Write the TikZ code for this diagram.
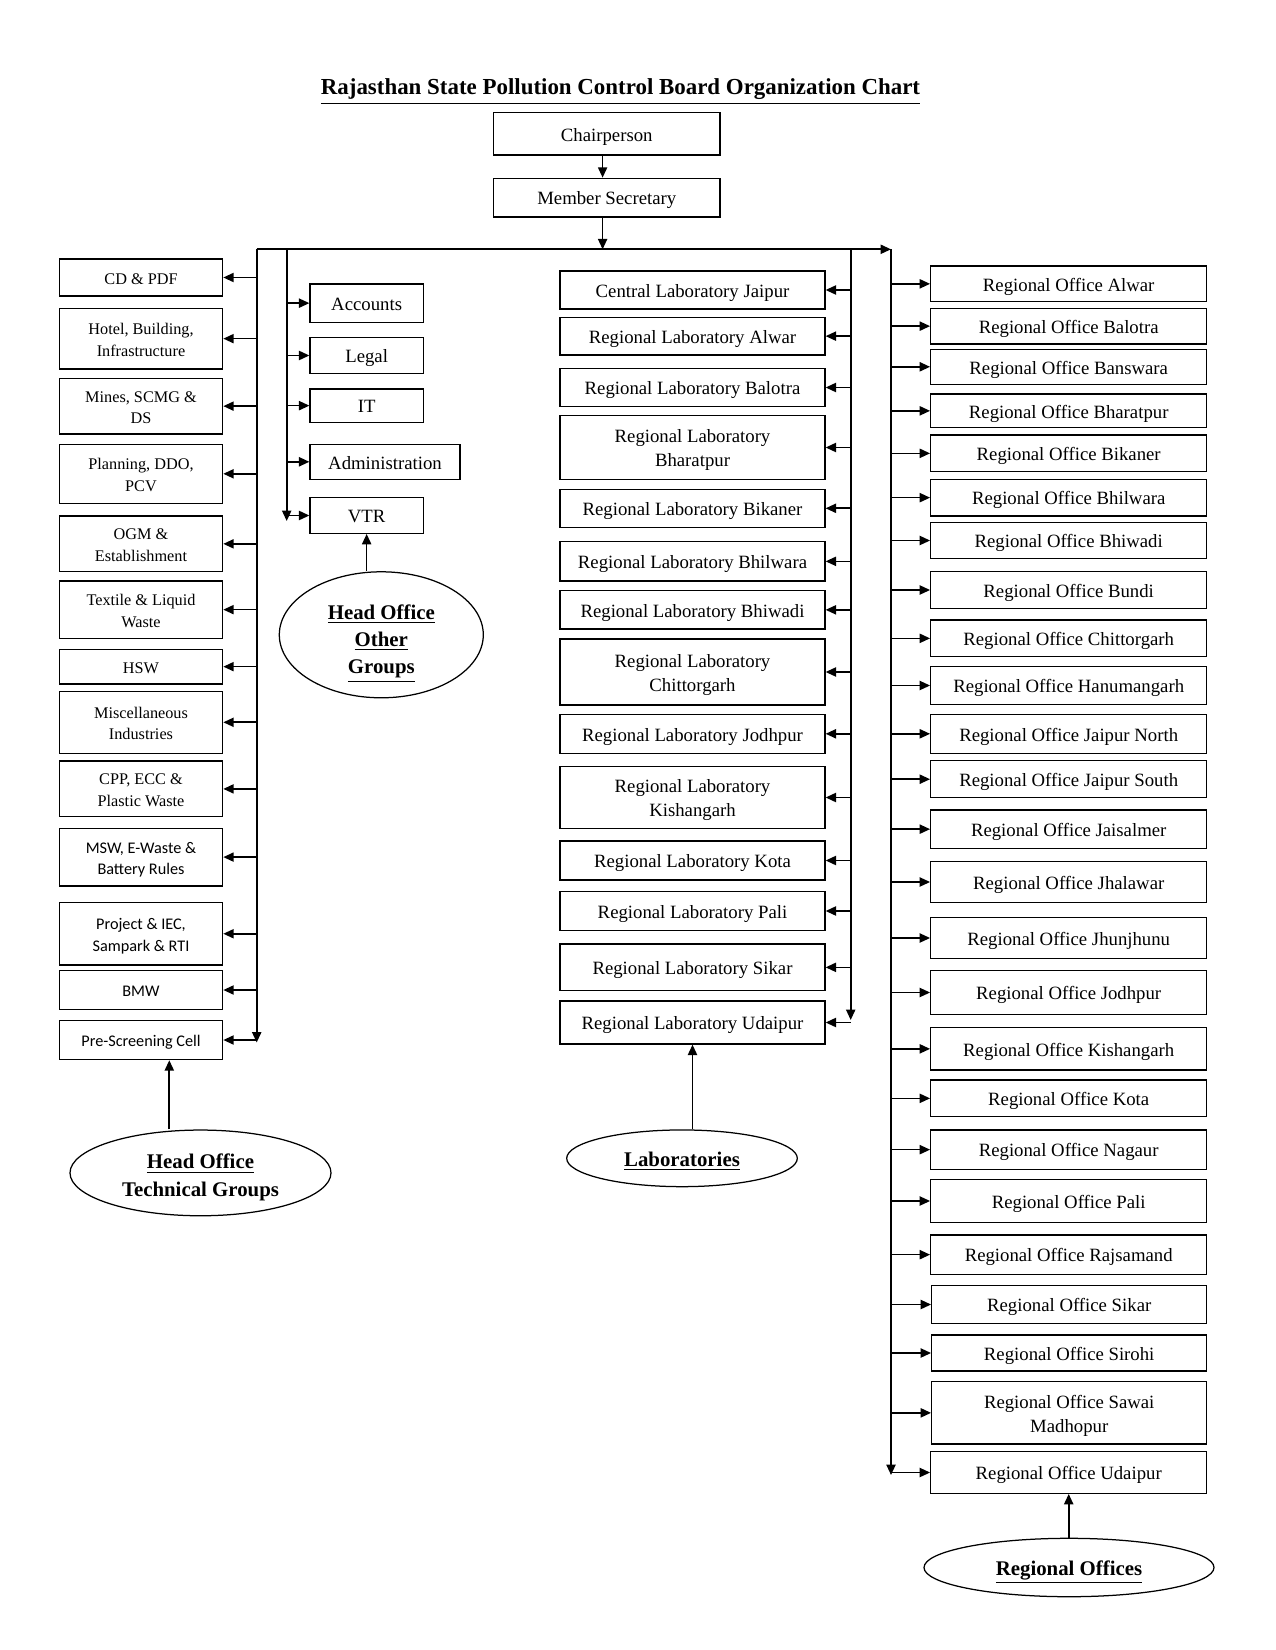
\documentclass[tikz,border=0pt]{standalone}
\usepackage{fontspec}
\setmainfont{Liberation Serif}
\newfontfamily\calib{Carlito}
\usetikzlibrary{arrows.meta,shapes.geometric}
\tikzset{
  box/.style={draw,line width=0.6pt,inner sep=0pt,font=\fontsize{9}{11.5}\selectfont},
  lbox/.style={box,font=\fontsize{7.8}{10.4}\selectfont},
  cbox/.style={box,font=\calib\fontsize{7.8}{10.4}\selectfont},
  oval/.style={draw,ellipse,line width=0.6pt,inner sep=0pt,font=\bfseries\fontsize{10}{13}\selectfont},
  arr/.style={line width=0.8pt,-{Triangle[length=5pt,width=4.4pt]}},
  conn/.style={line width=0.8pt}
}
\newcommand\tx[2][1.2pt]{\raisebox{-#1}[\height][\depth]{\begin{tabular}{@{}c@{}}#2\end{tabular}}}
\newcommand\bx[7][]{\node[box,#1,minimum width={(#5-#3)*0.48pt},minimum height={(#6-#4)*0.48pt}] (#2) at ({(#3+#5)/2},{(#4+#6)/2}) {\tx{#7}};}
\begin{document}
\begin{tikzpicture}[x=0.48pt,y=-0.48pt]
\useasboundingbox (0,0) rectangle (1275,1650);
% title
\node[anchor=base,inner sep=0pt,font=\bfseries\fontsize{11}{13}\selectfont] (title) at (620.5,95) {\underline{Rajasthan State Pollution Control Board Organization Chart}};
% top
\bx{chair}{493.5}{112.7}{720}{155}{Chairperson}
\bx{ms}{493.5}{178.3}{720}{217}{Member Secretary}
\coordinate (cx) at (602.6,0);
\coordinate (busL) at (256.7,249.3);
\coordinate (busM) at (602.6,249.3);
\coordinate (busR) at (891,249.3);
\coordinate (vI) at (286.7,249.3);
\coordinate (vLab) at (850.7,249.3);
\coordinate (Lend) at (256.7,1042.5);
\coordinate (Iend) at (286.7,521);
\coordinate (Bend) at (850.7,1020);
\coordinate (Rend) at (891,1475);
\draw[arr] (chair.south -| cx) -- (ms.north -| cx);
\draw[arr] (ms.south -| cx) -- (busM);
\draw[arr] (busL) -- (busR);
\draw[arr] (busL) -- (Lend);
\draw[arr] (vI) -- (Iend);
\draw[arr] (vLab) -- (Bend);
\draw[arr] (busR) -- (Rend);
% left technical groups
\bx[lbox]{cd}{59.3}{259}{222.7}{296}{CD \& PDF}
\bx[lbox]{hotel}{59.3}{308.3}{222.7}{369}{Hotel, Building,\\Infrastructure}
\bx[lbox]{mines}{59.3}{378.3}{222.7}{434}{Mines, SCMG \&\\DS}
\bx[lbox]{plan}{59.3}{444.3}{222.7}{503.3}{Planning, DDO,\\PCV}
\bx[lbox]{ogm}{59.3}{516}{222.7}{571.7}{OGM \&\\Establishment}
\bx[lbox]{textile}{59.3}{581}{222.7}{638.3}{Textile \& Liquid\\Waste}
\bx[lbox]{hsw}{59.3}{649.3}{222.7}{684}{HSW}
\bx[lbox]{misc}{59.3}{691.4}{222.7}{753.2}{Miscellaneous\\Industries}
\bx[lbox]{cpp}{59.3}{761}{222.7}{816.8}{CPP, ECC \&\\Plastic Waste}
\bx[cbox]{msw}{59.3}{828.2}{222.7}{886}{MSW, E-Waste \&\\Battery Rules}
\bx[cbox]{proj}{59.3}{902.5}{222.7}{965}{Project \& IEC,\\Sampark \& RTI}
\bx[cbox]{bmw}{59.3}{970.4}{222.7}{1009.6}{BMW}
\bx[cbox]{pre}{59.3}{1020.4}{222.7}{1059.6}{Pre-Screening Cell\hspace{8pt}}
\foreach \n in {cd,hotel,mines,plan,ogm,textile,hsw,misc,cpp,msw,proj,bmw,pre}
  \draw[arr] (busL |- \n.east) -- (\n.east);
% other groups
\bx{acc}{310}{284}{423.3}{322.3}{Accounts}
\bx{legal}{310}{337.7}{423.3}{373.3}{Legal}
\bx{it}{310}{389}{423.3}{422.3}{IT}
\bx{admin}{310}{444.3}{460}{479.3}{Administration}
\bx{vtr}{310}{497.7}{423.3}{533.3}{VTR}
\foreach \n in {acc,legal,it,admin,vtr}
  \draw[arr] (vI |- \n.west) -- (\n.west);
% laboratories
\bx{lcen}{560}{271}{825}{309}{Central Laboratory Jaipur}
\bx{lalw}{560}{317.3}{825}{355}{Regional Laboratory Alwar}
\bx{lbal}{560}{368.7}{825}{406.3}{Regional Laboratory Balotra}
\bx{lbha}{560}{415.7}{825}{479.3}{Regional Laboratory\\Bharatpur}
\bx{lbik}{560}{489.3}{825}{527.3}{Regional Laboratory Bikaner}
\bx{lbhl}{560}{541.7}{825}{581}{Regional Laboratory Bhilwara}
\bx{lbhw}{560}{590.7}{825}{629}{Regional Laboratory Bhiwadi}
\bx{lchi}{560}{639}{825}{705}{Regional Laboratory\\Chittorgarh}
\bx{ljod}{560}{714.3}{825}{753.3}{Regional Laboratory Jodhpur}
\bx{lkis}{560}{766.7}{825}{828.3}{Regional Laboratory\\Kishangarh}
\bx{lkot}{560}{841}{825}{880}{Regional Laboratory Kota}
\bx{lpal}{560}{891.3}{825}{930.7}{Regional Laboratory Pali}
\bx{lsik}{560}{944}{825}{990.7}{Regional Laboratory Sikar}
\bx{luda}{560}{1001}{825}{1044}{Regional Laboratory Udaipur}
\foreach \n in {lcen,lalw,lbal,lbha,lbik,lbhl,lbhw,lchi,ljod,lkis,lkot,lpal,lsik,luda}
  \draw[arr] (vLab |- \n.east) -- (\n.east);
% regional offices
\bx{ralw}{930.7}{266}{1206.7}{301.7}{Regional Office Alwar}
\bx{rbal}{930.7}{308.3}{1206.7}{344}{Regional Office Balotra}
\bx{rban}{930.7}{349.3}{1206.7}{384.3}{Regional Office Banswara}
\bx{rbha}{930.7}{394}{1206.7}{427.7}{Regional Office Bharatpur}
\bx{rbik}{930.7}{435}{1206.7}{471.7}{Regional Office Bikaner}
\bx{rbhl}{930.7}{479.3}{1206.7}{516}{Regional Office Bhilwara}
\bx{rbhw}{930.7}{522.7}{1206.7}{558.3}{Regional Office Bhiwadi}
\bx{rbun}{930.7}{571.7}{1206.7}{608.3}{Regional Office Bundi}
\bx{rchi}{930.7}{620}{1206.7}{656.7}{Regional Office Chittorgarh}
\bx{rhan}{930.7}{666.7}{1206.7}{704.3}{Regional Office Hanumangarh}
\bx{rjpn}{930.7}{714.3}{1206.7}{753.3}{Regional Office Jaipur North}
\bx{rjps}{930.7}{760.7}{1206.7}{797.7}{Regional Office Jaipur South}
\bx{rjai}{930.7}{810}{1206.7}{848.3}{Regional Office Jaisalmer}
\bx{rjha}{930.7}{861.7}{1206.7}{902.3}{Regional Office Jhalawar}
\bx{rjhu}{930.7}{917.7}{1206.7}{958.3}{Regional Office Jhunjhunu}
\bx{rjod}{930.7}{970.7}{1206.7}{1014.3}{Regional Office Jodhpur}
\bx{rkis}{930.7}{1027.7}{1206.7}{1070}{Regional Office Kishangarh}
\bx{rkot}{930.7}{1080}{1206.7}{1116.7}{Regional Office Kota}
\bx{rnag}{930.7}{1130}{1206.7}{1169.3}{Regional Office Nagaur}
\bx{rpal}{930.7}{1179.3}{1206.7}{1222.7}{Regional Office Pali}
\bx{rraj}{930.7}{1235}{1206.7}{1274.3}{Regional Office Rajsamand}
\bx{rsik}{931.7}{1285.7}{1206.7}{1323.3}{Regional Office Sikar}
\bx{rsir}{931.7}{1335}{1206.7}{1371}{Regional Office Sirohi}
\bx{rsaw}{931.7}{1381.7}{1206.7}{1444}{Regional Office Sawai\\Madhopur}
\bx{ruda}{930.7}{1451.7}{1206.7}{1493.3}{Regional Office Udaipur}
\foreach \n in {ralw,rbal,rban,rbha,rbik,rbhl,rbhw,rbun,rchi,rhan,rjpn,rjps,rjai,rjha,rjhu,rjod,rkis,rkot,rnag,rpal,rraj,rsik,rsir,rsaw,ruda}
  \draw[arr] (busR |- \n.west) -- (\n.west);
% ellipses
\node[oval,minimum width={204*0.48pt},minimum height={126*0.48pt}] (hoog) at (381.3,634.8) {\tx[3.2pt]{\underline{Head Office}\\\underline{Other}\\\underline{Groups}}};
\node[oval,minimum width={261*0.48pt},minimum height={85.7*0.48pt}] (hotg) at (200.5,1172.9) {\tx[2pt]{\underline{Head Office}\\Technical Groups}};
\node[oval,minimum width={230.6*0.48pt},minimum height={56.7*0.48pt}] (labs) at (682,1158.3) {\tx[1.2pt]{\underline{Laboratories}}};
\node[oval,minimum width={290*0.48pt},minimum height={58.4*0.48pt}] (rofs) at (1069,1567.5) {\tx[1.2pt]{\underline{Regional Offices}}};
\coordinate (tgx) at (169.3,0);
\draw[arr] (vtr.south |- hoog.north) -- (vtr.south);
\draw[arr] (hotg.north -| tgx) -- (pre.south -| tgx);
\draw[arr] (luda.south |- labs.north) -- (luda.south);
\draw[arr] (ruda.south |- rofs.north) -- (ruda.south);
\end{tikzpicture}
\end{document}
